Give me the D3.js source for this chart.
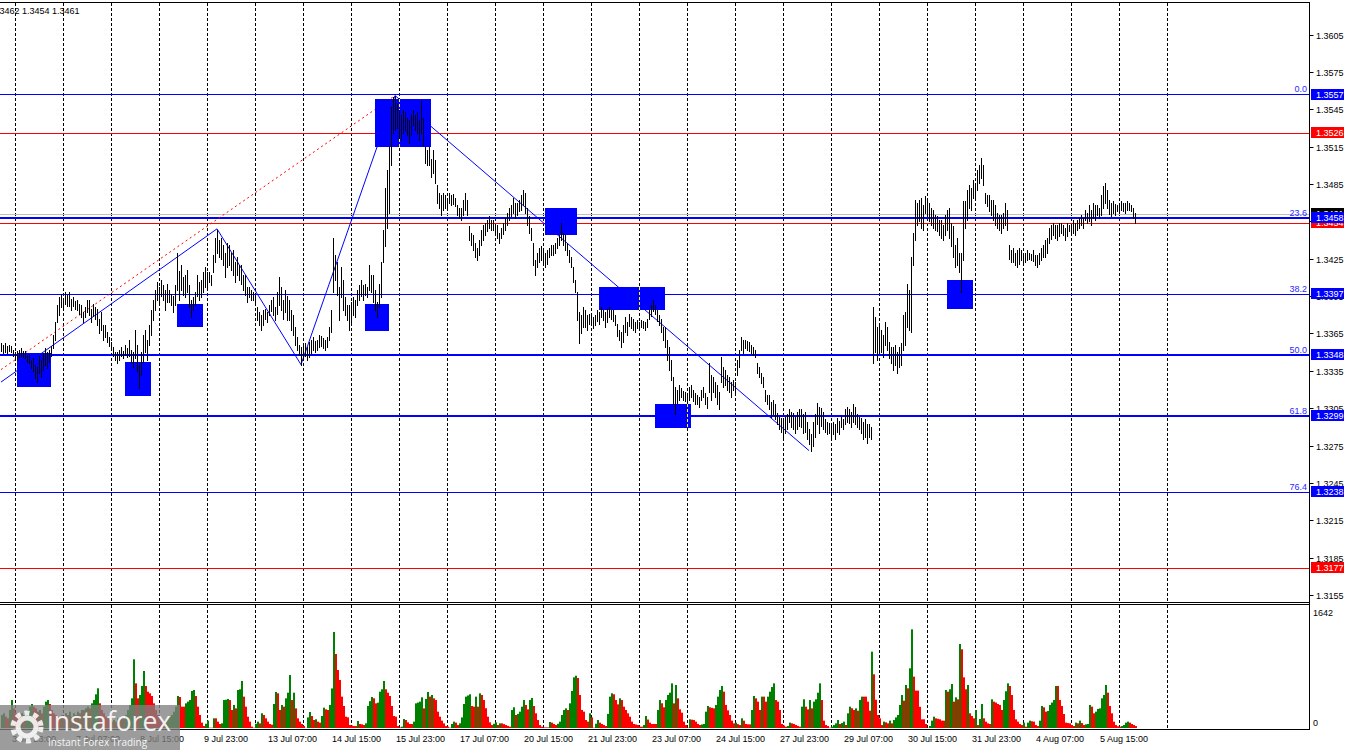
<!DOCTYPE html>
<html><head><meta charset="utf-8">
<script src="https://cdn.jsdelivr.net/npm/d3@7"></script>
<style>
body{margin:0;background:#fff;overflow:hidden}
svg{display:block}
text{font-family:"Liberation Sans",Arial,sans-serif;font-size:9px}
</style>
</head><body>
<svg id="c" width="1350" height="750"></svg>
<script>
// ---------------- DATA (GBPUSD H1) ----------------
const firstBarTime = "2020-07-03 17:00";
const barHours = 1;
const barHigh = [
1.3357,1.3356,1.3357,1.3355,1.3356,1.3355,1.3352,1.3350,1.3351,1.3352,
1.3353,1.3351,1.3351,1.3348,1.3348,1.3344,1.3345,1.3340,1.3338,1.3347,
1.3344,1.3349,1.3353,1.3350,1.3352,1.3355,1.3364,1.3374,1.3388,1.3394,
1.3397,1.3393,1.3398,1.3396,1.3398,1.3393,1.3394,1.3391,1.3392,1.3389,
1.3388,1.3382,1.3386,1.3392,1.3392,1.3385,1.3389,1.3386,1.3385,1.3377,
1.3382,1.3372,1.3372,1.3366,1.3362,1.3358,1.3354,1.3350,1.3350,1.3352,
1.3354,1.3351,1.3356,1.3353,1.3360,1.3352,1.3350,1.3368,1.3356,1.3340,
1.3350,1.3364,1.3368,1.3360,1.3372,1.3384,1.3392,1.3400,1.3406,1.3402,
1.3408,1.3404,1.3400,1.3405,1.3400,1.3397,1.3395,1.3404,1.3430,1.3415,
1.3420,1.3410,1.3412,1.3416,1.3404,1.3392,1.3394,1.3398,1.3412,1.3406,
1.3408,1.3414,1.3418,1.3414,1.3414,1.3412,1.3428,1.3442,1.3448,1.3440,
1.3442,1.3436,1.3430,1.3438,1.3436,1.3430,1.3432,1.3422,1.3426,1.3420,
1.3420,1.3412,1.3412,1.3402,1.3402,1.3400,1.3398,1.3395,1.3386,1.3382,
1.3380,1.3384,1.3385,1.3382,1.3388,1.3392,1.3394,1.3386,1.3398,1.3410,
1.3402,1.3392,1.3400,1.3395,1.3392,1.3384,1.3380,1.3370,1.3362,1.3356,
1.3354,1.3356,1.3357,1.3354,1.3358,1.3360,1.3362,1.3359,1.3360,1.3364,
1.3363,1.3361,1.3360,1.3362,1.3370,1.3384,1.3442,1.3428,1.3422,1.3402,
1.3418,1.3408,1.3394,1.3388,1.3388,1.3390,1.3394,1.3392,1.3400,1.3404,
1.3408,1.3404,1.3405,1.3402,1.3420,1.3412,1.3412,1.3400,1.3390,1.3405,
1.3422,1.3448,1.3482,1.3496,1.3515,1.3547,1.3555,1.3556,1.3550,1.3544,
1.3540,1.3544,1.3543,1.3538,1.3536,1.3540,1.3544,1.3540,1.3543,1.3536,
1.3552,1.3538,1.3515,1.3512,1.3515,1.3505,1.3512,1.3504,1.3484,1.3478,
1.3476,1.3478,1.3476,1.3474,1.3478,1.3476,1.3477,1.3474,1.3468,1.3466,
1.3466,1.3472,1.3478,1.3472,1.3451,1.3446,1.3444,1.3438,1.3434,1.3440,
1.3448,1.3452,1.3454,1.3456,1.3459,1.3456,1.3456,1.3453,1.3452,1.3446,
1.3450,1.3454,1.3458,1.3462,1.3466,1.3468,1.3474,1.3470,1.3470,1.3472,
1.3476,1.3480,1.3478,1.3466,1.3459,1.3450,1.3438,1.3424,1.3430,1.3434,
1.3435,1.3432,1.3430,1.3432,1.3434,1.3436,1.3436,1.3438,1.3442,1.3444,
1.3454,1.3446,1.3444,1.3438,1.3432,1.3426,1.3418,1.3408,1.3398,1.3382,
1.3380,1.3386,1.3384,1.3380,1.3381,1.3379,1.3378,1.3380,1.3384,1.3382,
1.3386,1.3384,1.3382,1.3385,1.3386,1.3384,1.3384,1.3380,1.3373,1.3368,
1.3366,1.3372,1.3378,1.3374,1.3381,1.3378,1.3377,1.3374,1.3376,1.3374,
1.3376,1.3375,1.3374,1.3377,1.3384,1.3388,1.3392,1.3388,1.3384,1.3380,
1.3377,1.3370,1.3370,1.3360,1.3354,1.3344,1.3330,1.3322,1.3320,1.3324,
1.3321,1.3319,1.3318,1.3316,1.3322,1.3324,1.3320,1.3317,1.3316,1.3314,
1.3320,1.3322,1.3317,1.3314,1.3341,1.3332,1.3330,1.3326,1.3324,1.3318,
1.3346,1.3338,1.3336,1.3332,1.3330,1.3326,1.3328,1.3326,1.3344,1.3352,
1.3362,1.3360,1.3360,1.3359,1.3358,1.3356,1.3354,1.3352,1.3341,1.3338,
1.3333,1.3330,1.3320,1.3316,1.3316,1.3310,1.3312,1.3308,1.3301,1.3298,
1.3297,1.3295,1.3298,1.3300,1.3304,1.3302,1.3301,1.3298,1.3302,1.3304,
1.3304,1.3300,1.3302,1.3294,1.3288,1.3284,1.3294,1.3300,1.3309,1.3306,
1.3305,1.3302,1.3296,1.3294,1.3293,1.3291,1.3294,1.3292,1.3297,1.3295,
1.3298,1.3296,1.3304,1.3306,1.3304,1.3302,1.3308,1.3306,1.3300,1.3298,
1.3297,1.3294,1.3296,1.3292,1.3292,1.3290,1.3386,1.3378,1.3370,1.3373,
1.3368,1.3364,1.3374,1.3370,1.3358,1.3354,1.3354,1.3356,1.3350,1.3354,
1.3357,1.3380,1.3382,1.3405,1.3400,1.3426,1.3446,1.3472,1.3470,1.3472,
1.3474,1.3468,1.3475,1.3473,1.3470,1.3466,1.3464,1.3460,1.3459,1.3456,
1.3456,1.3452,1.3460,1.3464,1.3466,1.3454,1.3451,1.3436,1.3442,1.3430,
1.3430,1.3471,1.3471,1.3480,1.3484,1.3482,1.3488,1.3486,1.3496,1.3500,
1.3506,1.3500,1.3478,1.3476,1.3476,1.3472,1.3472,1.3468,1.3462,1.3460,
1.3460,1.3462,1.3470,1.3464,1.3436,1.3432,1.3434,1.3430,1.3432,1.3434,
1.3432,1.3430,1.3430,1.3432,1.3430,1.3429,1.3432,1.3428,1.3428,1.3430,
1.3434,1.3436,1.3440,1.3442,1.3450,1.3452,1.3454,1.3452,1.3452,1.3454,
1.3454,1.3452,1.3450,1.3454,1.3452,1.3451,1.3456,1.3454,1.3456,1.3458,
1.3460,1.3458,1.3464,1.3462,1.3468,1.3464,1.3470,1.3468,1.3468,1.3466,
1.3476,1.3483,1.3486,1.3480,1.3472,1.3470,1.3471,1.3469,1.3468,1.3467,
1.3471,1.3470,1.3470,1.3471,1.3470,1.3468,1.3466,1.3462];
const barLow = [
1.3351,1.3349,1.3350,1.3349,1.3351,1.3350,1.3347,1.3345,1.3344,1.3346,
1.3347,1.3346,1.3345,1.3342,1.3341,1.3337,1.3335,1.3329,1.3326,1.3333,
1.3330,1.3336,1.3340,1.3337,1.3342,1.3347,1.3353,1.3360,1.3374,1.3380,
1.3386,1.3384,1.3389,1.3387,1.3387,1.3384,1.3387,1.3385,1.3384,1.3381,
1.3378,1.3374,1.3378,1.3382,1.3380,1.3374,1.3379,1.3377,1.3372,1.3365,
1.3368,1.3360,1.3362,1.3358,1.3355,1.3352,1.3347,1.3344,1.3341,1.3344,
1.3347,1.3345,1.3348,1.3346,1.3347,1.3342,1.3338,1.3345,1.3335,1.3321,
1.3332,1.3342,1.3350,1.3344,1.3356,1.3364,1.3376,1.3384,1.3392,1.3388,
1.3395,1.3392,1.3384,1.3390,1.3390,1.3388,1.3382,1.3388,1.3400,1.3392,
1.3400,1.3396,1.3394,1.3398,1.3386,1.3378,1.3384,1.3388,1.3395,1.3392,
1.3394,1.3398,1.3402,1.3400,1.3406,1.3404,1.3414,1.3422,1.3430,1.3426,
1.3425,1.3420,1.3410,1.3418,1.3420,1.3416,1.3412,1.3406,1.3412,1.3408,
1.3405,1.3400,1.3396,1.3390,1.3394,1.3392,1.3392,1.3389,1.3376,1.3372,
1.3368,1.3372,1.3377,1.3374,1.3380,1.3383,1.3380,1.3376,1.3381,1.3388,
1.3384,1.3377,1.3382,1.3376,1.3376,1.3368,1.3364,1.3356,1.3352,1.3348,
1.3340,1.3344,1.3347,1.3344,1.3346,1.3349,1.3352,1.3350,1.3352,1.3354,
1.3355,1.3353,1.3352,1.3354,1.3360,1.3366,1.3398,1.3408,1.3396,1.3376,
1.3394,1.3384,1.3380,1.3376,1.3368,1.3374,1.3380,1.3378,1.3388,1.3392,
1.3395,1.3392,1.3396,1.3394,1.3400,1.3398,1.3390,1.3384,1.3378,1.3386,
1.3394,1.3422,1.3435,1.3450,1.3462,1.3500,1.3526,1.3528,1.3530,1.3522,
1.3520,1.3526,1.3528,1.3524,1.3518,1.3524,1.3532,1.3528,1.3526,1.3520,
1.3526,1.3516,1.3502,1.3500,1.3500,1.3491,1.3494,1.3486,1.3470,1.3466,
1.3460,1.3464,1.3466,1.3464,1.3470,1.3468,1.3469,1.3467,1.3460,1.3458,
1.3456,1.3460,1.3464,1.3460,1.3440,1.3436,1.3432,1.3426,1.3424,1.3428,
1.3436,1.3440,1.3444,1.3447,1.3450,1.3448,1.3448,1.3446,1.3442,1.3438,
1.3442,1.3445,1.3448,1.3452,1.3456,1.3459,1.3462,1.3458,1.3460,1.3463,
1.3464,1.3468,1.3462,1.3452,1.3446,1.3440,1.3420,1.3412,1.3418,1.3422,
1.3424,1.3422,1.3418,1.3421,1.3426,1.3428,1.3428,1.3430,1.3434,1.3436,
1.3440,1.3436,1.3432,1.3428,1.3422,1.3418,1.3406,1.3398,1.3376,1.3357,
1.3365,1.3370,1.3370,1.3368,1.3373,1.3372,1.3369,1.3372,1.3375,1.3373,
1.3378,1.3376,1.3370,1.3374,1.3378,1.3377,1.3375,1.3372,1.3363,1.3360,
1.3354,1.3358,1.3366,1.3364,1.3371,1.3369,1.3368,1.3366,1.3369,1.3368,
1.3370,1.3369,1.3368,1.3370,1.3377,1.3379,1.3383,1.3381,1.3375,1.3372,
1.3366,1.3360,1.3354,1.3344,1.3336,1.3328,1.3308,1.3300,1.3309,1.3312,
1.3314,1.3312,1.3311,1.3309,1.3312,1.3314,1.3311,1.3308,1.3308,1.3306,
1.3312,1.3314,1.3308,1.3305,1.3318,1.3312,1.3318,1.3314,1.3308,1.3304,
1.3326,1.3322,1.3324,1.3320,1.3318,1.3314,1.3320,1.3317,1.3332,1.3338,
1.3352,1.3349,1.3353,1.3352,1.3351,1.3349,1.3348,1.3346,1.3333,1.3330,
1.3325,1.3322,1.3311,1.3308,1.3304,1.3298,1.3300,1.3296,1.3292,1.3288,
1.3286,1.3282,1.3285,1.3288,1.3294,1.3290,1.3288,1.3285,1.3288,1.3291,
1.3290,1.3285,1.3286,1.3280,1.3276,1.3271,1.3275,1.3282,1.3292,1.3285,
1.3291,1.3288,1.3286,1.3284,1.3285,1.3282,1.3284,1.3280,1.3286,1.3284,
1.3290,1.3288,1.3292,1.3294,1.3293,1.3290,1.3294,1.3292,1.3290,1.3288,
1.3285,1.3280,1.3282,1.3277,1.3282,1.3280,1.3341,1.3350,1.3344,1.3350,
1.3350,1.3346,1.3356,1.3352,1.3345,1.3341,1.3336,1.3340,1.3333,1.3338,
1.3340,1.3352,1.3356,1.3370,1.3368,1.3366,1.3420,1.3440,1.3452,1.3455,
1.3450,1.3448,1.3462,1.3459,1.3455,1.3452,1.3450,1.3448,1.3447,1.3444,
1.3442,1.3440,1.3444,1.3448,1.3442,1.3435,1.3426,1.3418,1.3420,1.3414,
1.3398,1.3424,1.3450,1.3456,1.3466,1.3464,1.3474,1.3472,1.3480,1.3486,
1.3490,1.3484,1.3470,1.3467,1.3463,1.3460,1.3456,1.3452,1.3450,1.3448,
1.3446,1.3450,1.3452,1.3448,1.3425,1.3422,1.3422,1.3420,1.3418,1.3421,
1.3424,1.3422,1.3422,1.3424,1.3425,1.3424,1.3423,1.3420,1.3418,1.3421,
1.3424,1.3426,1.3426,1.3430,1.3438,1.3441,1.3444,1.3442,1.3440,1.3443,
1.3446,1.3444,1.3440,1.3443,1.3447,1.3446,1.3446,1.3444,1.3448,1.3450,
1.3452,1.3450,1.3456,1.3454,1.3455,1.3452,1.3458,1.3456,1.3460,1.3458,
1.3460,1.3466,1.3470,1.3466,1.3461,1.3459,1.3462,1.3460,1.3463,1.3462,
1.3464,1.3463,1.3462,1.3464,1.3464,1.3463,1.3458,1.3454];
const volumes = [
184,208,160,137,255,396,278,208,184,160,208,184,231,255,302,340,302,278,231,255,
208,302,373,396,340,255,208,184,160,137,184,160,208,184,231,160,208,184,231,208,
255,255,278,302,278,349,396,477,562,349,255,208,160,137,113,90,113,90,137,113,
160,137,184,255,326,420,972,632,420,467,595,807,595,514,491,453,349,255,184,137,
113,90,113,137,160,184,231,302,453,439,302,302,349,373,396,524,538,453,302,184,
76,28,60,104,5,5,137,137,90,57,66,396,400,411,396,255,326,278,538,548,
666,444,302,160,90,19,5,60,90,66,208,184,137,90,57,47,340,510,491,255,
326,302,420,500,750,396,500,278,137,90,57,28,3,150,227,170,113,123,90,76,
170,288,264,255,326,560,1359,1048,821,680,444,312,160,151,42,35,28,28,99,57,
52,42,66,312,380,439,420,349,359,514,548,666,548,500,453,312,170,160,28,9,
19,127,113,80,57,57,90,349,360,373,434,278,411,510,444,467,420,396,231,160,
104,66,28,19,5,57,90,76,42,66,150,340,444,460,477,312,302,444,302,491,
467,396,280,160,80,42,60,80,42,66,66,55,42,30,19,255,293,184,200,231,
302,396,326,264,396,425,312,208,113,42,19,9,9,9,85,76,57,42,60,90,
184,255,278,255,349,524,717,740,708,467,255,231,113,90,208,150,5,60,113,76,
57,42,28,200,444,491,477,396,335,420,396,302,255,208,160,90,57,50,42,19,
19,42,170,120,76,57,57,57,255,396,350,293,396,467,500,632,349,609,420,264,
217,90,42,5,123,118,113,90,57,42,50,57,231,312,293,285,278,326,444,538,
595,514,326,250,184,104,66,76,55,42,137,104,57,52,52,255,453,420,373,255,
444,444,373,444,514,580,632,396,373,255,57,35,19,28,76,66,57,42,30,19,
302,406,302,264,396,278,373,406,500,632,396,104,42,28,5,20,42,66,113,57,
70,90,42,208,302,280,255,278,245,396,444,444,444,373,245,1081,760,400,184,137,
42,90,80,66,104,66,113,150,184,326,467,387,609,562,845,1397,727,529,529,300,
123,123,57,3,28,104,160,137,130,123,104,104,538,514,548,623,373,434,406,1189,
1114,717,548,609,208,170,137,255,42,127,340,137,90,66,57,406,373,360,340,326,
255,396,520,632,595,467,255,123,90,57,42,76,19,76,104,95,90,42,28,104,
312,293,231,241,326,360,396,595,595,396,312,198,76,70,66,42,28,76,66,104,
70,42,52,57,326,302,208,231,270,278,420,467,609,500,312,208,90,42,25,19,
28,42,76,90,76,57,42,28];
const volumeMax = 1642;
const headerText = "1.3462 1.3454 1.3461";
const priceTicks = [1.3605,1.3575,1.3545,1.3515,1.3485,1.3455,1.3425,1.3395,1.3365,1.3335,1.3305,1.3275,1.3245,1.3215,1.3185,1.3155];
const timeLabels = ["3 Jul 23:00","7 Jul 07:00","8 Jul 15:00","9 Jul 23:00","13 Jul 07:00","14 Jul 15:00","15 Jul 23:00","17 Jul 07:00","20 Jul 15:00","21 Jul 23:00","23 Jul 07:00","24 Jul 15:00","27 Jul 23:00","29 Jul 07:00","30 Jul 15:00","31 Jul 23:00","4 Aug 07:00","5 Aug 15:00"];
const gridFirstDay = "2020-07-06 00:00", gridLastDay = "2020-08-07 00:00";
const fibLevels = [["0.0",1.3557],["23.6",1.3458],["38.2",1.3397],["50.0",1.3348],["61.8",1.3299],["76.4",1.3238]];
const levelPrices = [1.3557,1.3526,1.3461,1.3458,1.3454,1.3397,1.3348,1.3299,1.3238,1.3177];
const levelKinds  = ["fib","res","bid","key","ask","fib","key","key","fib","res"];
const labelOrder = [1.3557,1.3526,1.3461,1.3454,1.3458,1.3397,1.3348,1.3299,1.3238,1.3177];
const zoneStart = ["2020-07-06 01:00","2020-07-08 07:00","2020-07-09 09:00","2020-07-15 07:00","2020-07-15 12:00","2020-07-21 01:00","2020-07-22 04:00","2020-07-23 08:00","2020-07-31 10:00"];
const zoneEnd   = ["2020-07-06 18:00","2020-07-08 20:00","2020-07-09 22:00","2020-07-15 19:00","2020-07-16 16:00","2020-07-21 17:00","2020-07-23 13:00","2020-07-24 02:00","2020-07-31 23:00"];
const zoneTop   = [1.3349,1.3342,1.3389,1.3389,1.3553,1.3466,1.3402,1.3308,1.3408];
const zoneBot   = [1.3322,1.3315,1.3370,1.3367,1.3515,1.3444,1.3384,1.3289,1.3385];
const trendLines = [
 ["2020-07-03 17:00",1.3326,"2020-07-10 05:00",1.3449,"solid"],
 ["2020-07-10 05:00",1.3449,"2020-07-13 23:00",1.3340,"solid"],
 ["2020-07-13 23:00",1.3340,"2020-07-15 22:00",1.3556,"solid"],
 ["2020-07-15 22:00",1.3556,"2020-07-28 13:00",1.3271,"solid"],
 ["2020-07-03 17:00",1.3336,"2020-07-15 22:00",1.3556,"dash"]
];

// ---------------- CHART ----------------
const svg = d3.select("#c");
const parseT = d3.utcParse("%Y-%m-%d %H:%M");
const parseL = d3.utcParse("%d %b %H:%M %Y");
const t0 = parseT(firstBarTime);
function tradingIndex(t){
  let n=0, cur=t0.getTime(); const end=t.getTime();
  while(cur<end){cur+=3600e3; const d=new Date(cur).getUTCDay(); if(d!==0&&d!==6)n++;}
  return n;
}
const plotRight = 1309.5;
const x = d3.scaleLinear().domain([0,567]).range([1,1135]);
const y = d3.scaleLinear().domain([1.3557,1.3299]).range([94.3,415.7]);
const yv = d3.scaleLinear().domain([0,volumeMax]).range([728,612]);
const BLUE="#0000ff", RED="#ff0000", GREEN="#008000";
const defs = svg.append("defs");
defs.append("clipPath").attr("id","pc").append("rect").attr("x",0).attr("y",3).attr("width",1309).attr("height",599);
defs.append("clipPath").attr("id","vc").append("rect").attr("x",0).attr("y",605).attr("width",1309).attr("height",124);

const gGrid = svg.append("g");
const days=[]; {let d=parseT(gridFirstDay); const e=parseT(gridLastDay); while(d<=e){const w=d.getUTCDay(); if(w!==0&&w!==6)days.push(new Date(d)); d=new Date(d.getTime()+86400e3);}}
const gridX = days.map(d=>Math.round(x(tradingIndex(d)))+0.5);
gridX.forEach(gx=>{
  gGrid.append("line").attr("x1",gx).attr("x2",gx).attr("y1",3).attr("y2",602).attr("stroke","#000").attr("stroke-dasharray","3,2");
  gGrid.append("line").attr("x1",gx).attr("x2",gx).attr("y1",605).attr("y2",728).attr("stroke","#000").attr("stroke-dasharray","3,2");
});

const gMain = svg.append("g").attr("clip-path","url(#pc)");
const kindStyle = {fib:[BLUE,1],key:[BLUE,2],res:[RED,1],bid:["#c0c0c0",1],ask:[RED,1]};
levelPrices.forEach((p,i)=>{
  const [c,w]=kindStyle[levelKinds[i]];
  const yy = w===1?Math.round(y(p))+0.5:Math.round(y(p));
  gMain.append("line").attr("x1",0).attr("x2",plotRight).attr("y1",yy).attr("y2",yy).attr("stroke",c).attr("stroke-width",w);
});
trendLines.forEach(([a,pa,b,pb,st])=>{
  gMain.append("line").attr("x1",x(tradingIndex(parseT(a)))).attr("y1",y(pa))
    .attr("x2",x(tradingIndex(parseT(b)))).attr("y2",y(pb))
    .attr("stroke",st==="dash"?RED:BLUE).attr("stroke-width",1)
    .attr("stroke-dasharray",st==="dash"?"2,3":null);
});
zoneStart.forEach((s,i)=>{
  const x0=Math.round(x(tradingIndex(parseT(s)))), x1=Math.round(x(tradingIndex(parseT(zoneEnd[i]))));
  const y0=Math.round(y(zoneTop[i])), y1=Math.round(y(zoneBot[i]));
  gMain.append("rect").attr("x",x0).attr("y",y0).attr("width",x1-x0).attr("height",y1-y0).attr("fill",BLUE);
  gridX.filter(gx=>gx>x0&&gx<x1).forEach(gx=>{
    gMain.append("line").attr("x1",gx).attr("x2",gx).attr("y1",y0).attr("y2",y1).attr("stroke","#ffff00").attr("stroke-dasharray","3,2");
  });
});
fibLevels.forEach(([t,p])=>{
  gMain.append("text").attr("x",1307).attr("y",Math.round(y(p))-2).attr("text-anchor","end").attr("fill","#2a2aff").text(t);
});
const gBars = gMain.append("g");
barHigh.forEach((h,i)=>{
  const xx=Math.round(x(i*barHours))+0.5;
  gBars.append("line").attr("x1",xx).attr("x2",xx).attr("y1",Math.round(y(h))).attr("y2",Math.round(y(barLow[i]))+1).attr("stroke","#000").attr("stroke-width",1);
});
svg.append("text").attr("x",-8).attr("y",14).attr("fill","#000").text(headerText);

const gVol = svg.append("g").attr("clip-path","url(#vc)");
const step = x(barHours)-x(0);
volumes.forEach((v,i)=>{
  const c = (i===0||v>volumes[i-1])?GREEN:RED;
  const xx=Math.round(x(i*barHours));
  gVol.append("rect").attr("x",xx).attr("width",step).attr("y",yv(v)).attr("height",728-yv(v)).attr("fill",c);
});

const gF = svg.append("g").attr("stroke","#000").attr("stroke-width",1);
gF.append("line").attr("x1",0).attr("x2",plotRight).attr("y1",2.5).attr("y2",2.5);
gF.append("line").attr("x1",0).attr("x2",plotRight).attr("y1",602.5).attr("y2",602.5);
gF.append("line").attr("x1",0).attr("x2",plotRight).attr("y1",604.5).attr("y2",604.5);
gF.append("line").attr("x1",0).attr("x2",plotRight).attr("y1",729.5).attr("y2",729.5);
gF.append("line").attr("x1",plotRight).attr("x2",plotRight).attr("y1",2).attr("y2",730);

const gA = svg.append("g");
priceTicks.forEach(p=>{
  const yy=Math.round(y(p))+0.5;
  gA.append("line").attr("x1",plotRight).attr("x2",plotRight+4).attr("y1",yy).attr("y2",yy).attr("stroke","#000");
  gA.append("text").attr("x",1316).attr("y",yy+3.5).attr("fill","#000").text(p.toFixed(4));
});
const boxColor = {fib:BLUE,key:BLUE,res:RED,bid:"#000",ask:RED};
labelOrder.forEach(p=>{
  const k=levelKinds[levelPrices.indexOf(p)];
  const yy=y(p);
  gA.append("rect").attr("x",1311).attr("y",Math.round(yy-5.5)).attr("width",33).attr("height",11).attr("fill",boxColor[k]);
  gA.append("text").attr("x",1316).attr("y",Math.round(yy-5.5)+8.5).attr("fill","#fff").text(p.toFixed(4));
});
gA.append("text").attr("x",1313).attr("y",615.5).text(volumeMax);
gA.append("text").attr("x",1313).attr("y",726).text("0");

timeLabels.forEach(l=>{
  const t=parseL(l+" 2020");
  const xx=Math.round(x(tradingIndex(t)));
  svg.append("text").attr("x",xx-1).attr("y",741.5).attr("fill","#000").text(l);
});

const wm = svg.append("g");
wm.append("rect").attr("x",0).attr("y",705).attr("width",180).attr("height",45).attr("fill","#808080").attr("opacity",0.78);
wm.append("circle").attr("cx",27).attr("cy",727).attr("r",9).attr("fill","none").attr("stroke","#fff").attr("stroke-width",5).attr("opacity",0.85);
wm.append("circle").attr("cx",27).attr("cy",727).attr("r",14).attr("fill","none").attr("stroke","#fff").attr("stroke-width",5).attr("stroke-dasharray","5,4").attr("opacity",0.85);
wm.append("text").attr("x",47).attr("y",731).attr("fill","#fff").attr("opacity",0.9)
  .style("font-family","'Open Sans',sans-serif").style("font-size","26.5px").text("instaforex");
wm.append("text").attr("x",48).attr("y",745.5).attr("fill","#fff").attr("opacity",0.9)
  .style("font-family","'Open Sans',sans-serif").style("font-size","10px").text("Instant Forex Trading");
</script>
</body></html>
